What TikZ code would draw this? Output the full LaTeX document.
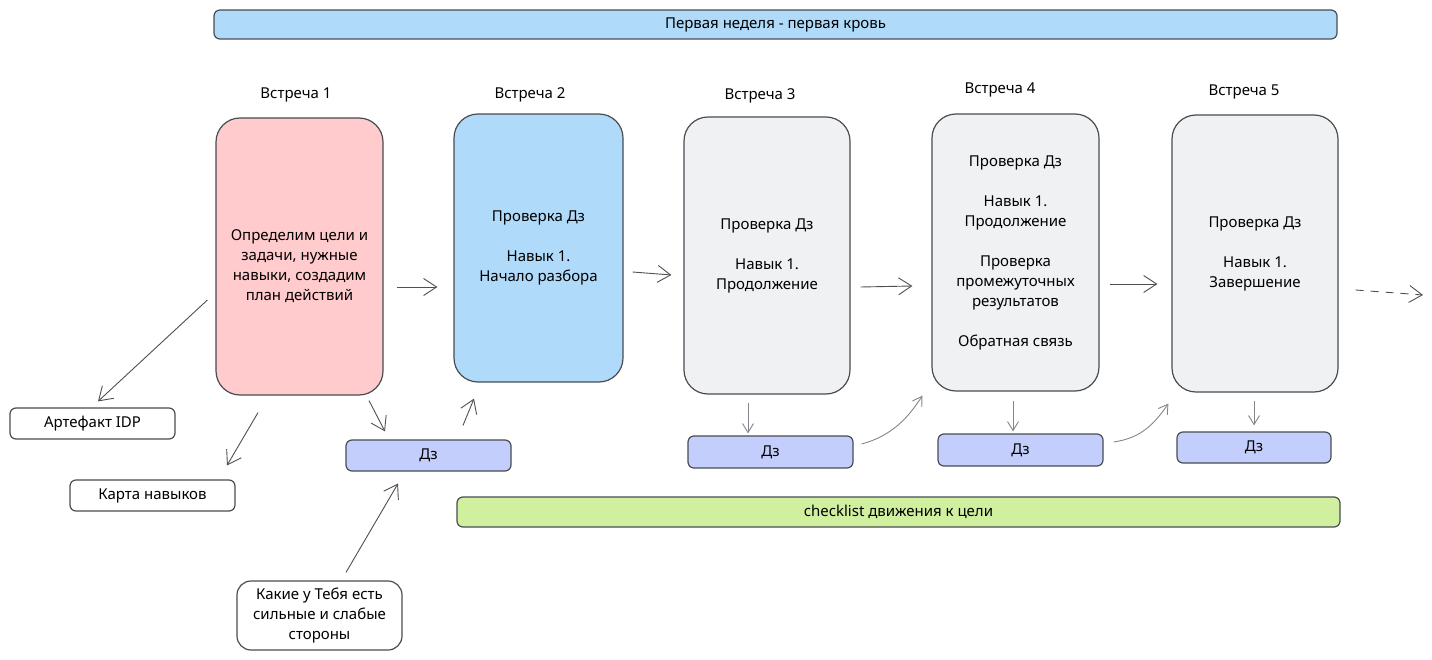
\documentclass[tikz,border=0pt]{standalone}
\usepackage{fontspec}
\setmainfont{Noto Sans}
\usetikzlibrary{arrows.meta,calc}
\definecolor{cpink}{RGB}{255,203,205}
\definecolor{cblue}{RGB}{176,218,250}
\definecolor{cgray}{RGB}{240,241,243}
\definecolor{cindigo}{RGB}{196,206,252}
\definecolor{cgreen}{RGB}{208,240,160}
\definecolor{cline}{RGB}{73,77,82}
\definecolor{carrow}{RGB}{80,80,80}
\definecolor{carrowl}{RGB}{130,134,140}
\tikzset{
  txt/.style={font=\fontsize{15}{20}\selectfont, text=black, align=center},
  bigbox/.style={draw=cline, line width=1.2pt, rounded corners=24pt, minimum width=#1, minimum height=277pt, inner sep=0pt},
  smallbox/.style={draw=cline, line width=1.2pt, rounded corners=6pt, inner sep=0pt, txt},
  title/.style={txt},
  arr/.style={draw=carrow, line width=0.9pt, -{Straight Barb[length=13pt,width=17pt,line width=0.9pt]}},
  arrl/.style={draw=carrowl, line width=0.9pt, -{Straight Barb[length=9pt,width=11pt,line width=0.9pt]}},
}
\begin{document}
\begin{tikzpicture}[x=1pt,y=-1pt]
\useasboundingbox (0,0) rectangle (1432,660);
\fill[white] (0,0) rectangle (1432,660);

% top bar
\node[smallbox, fill=cblue, minimum width=1123pt, minimum height=29pt] (week) at (775.5,24.5) {Первая неделя - первая кровь};

% titles
\node[title] (t1) at (296,95) {Встреча 1};
\node[title] (t2) at (530,95) {Встреча 2};
\node[title] (t3) at (760,96) {Встреча 3};
\node[title] (t4) at (1000,90) {Встреча 4};
\node[title] (t5) at (1244,92) {Встреча 5};

% big boxes
\node[bigbox=167pt, fill=cpink] (b1) at (299.5,256.5) {};
\node[txt] (b1txt) at ($(b1.center)+(0,10)$) {Определим цели и\\задачи, нужные\\навыки, создадим\\план действий};
\node[bigbox=169pt, fill=cblue, minimum height=268pt, txt] (b2) at (538.5,248) {Проверка Дз\\[20pt]Навык 1.\\Начало разбора};
\node[bigbox=166pt, fill=cgray, txt] (b3) at (767,255.5) {Проверка Дз\\[20pt]Навык 1.\\Продолжение};
\node[bigbox=167pt, fill=cgray, txt] (b4) at (1015.5,252.5) {Проверка Дз\\[20pt]Навык 1.\\Продолжение\\[20pt]Проверка\\промежуточных\\результатов\\[20pt]Обратная связь};
\node[bigbox=166pt, fill=cgray, txt] (b5) at (1255,253.5) {Проверка Дз\\[20pt]Навык 1.\\Завершение};

% small boxes
\node[smallbox, fill=white, minimum width=165pt, minimum height=31pt] (art) at (92.5,423.5) {Артефакт IDP};
\node[smallbox, fill=white, minimum width=165pt, minimum height=31pt] (map) at (152.5,495.5) {Карта навыков};
\node[smallbox, fill=cindigo, minimum width=165pt, minimum height=31pt] (dz1) at (428.5,455.5) {Дз};
\node[smallbox, fill=cindigo, minimum width=165pt, minimum height=32pt] (dz3) at (770.5,452) {Дз};
\node[smallbox, fill=cindigo, minimum width=165pt, minimum height=32pt] (dz4) at (1020.5,450) {Дз};
\node[smallbox, fill=cindigo, minimum width=154pt, minimum height=31pt] (dz5) at (1254,447.5) {Дз};
\node[smallbox, fill=white, rounded corners=14pt, minimum width=165pt, minimum height=69pt] (q) at (319.5,615.5) {Какие у Тебя есть\\сильные и слабые\\стороны};
\node[smallbox, fill=cgreen, minimum width=883pt, minimum height=30pt] (check) at (898.5,512) {checklist движения к цели};

\coordinate (dashend) at (1423,295);

% main arrows
\draw[arr] ($(b1.east)+(13,30.5)$) -- ($(b2.west)+(-16,39)$);
\draw[arr] ($(b2.east)+(9,24)$) -- ($(b3.west)+(-12,19.5)$);
\draw[arr] ($(b3.east)+(10,31.5)$) -- ($(b4.west)+(-19,33.5)$);
\draw[arr] ($(b4.east)+(10,31.5)$) -- ($(b5.west)+(-14,30.5)$);
\draw[arr, dashed, dash pattern=on 8pt off 7pt] ($(b5.east)+(17,36.5)$) -- (dashend);

\draw[arr] ($(b1.west)+(-8,43.5)$) -- ($(art.north)+(5.5,-6)$);
\draw[arr] ($(b1.south)+(-41.5,17)$) -- ($(map.north)+(74.5,-14)$);
\draw[arr] ($(b1.south)+(69.5,5)$) -- ($(dz1.north)+(-43.5,-8)$);
\draw[arr] ($(dz1.north)+(34.5,-14)$) -- ($(b2.south)+(-64.5,16)$);
\draw[arr] ($(q.north)+(26.5,-8)$) -- ($(dz1.south)+(-30.5,12)$);

% homework arrows
\draw[arrl] ($(b3.south)+(-19,8)$) -- ($(dz3.north)+(-22.5,-2)$);
\draw[arrl] ($(b4.south)+(-2.5,9)$) -- ($(dz4.north)+(-7.5,-2)$);
\draw[arrl] ($(b5.south)+(-1,8)$) -- ($(dz5.north)+(0,-6)$);
\draw[arrl] ($(dz3.east)+(8,-8)$) .. controls +(30,-8) and +(-14,22) .. ($(b4.south west)+(-9,4)$);
\draw[arrl] ($(dz4.east)+(10,-8)$) .. controls +(28,-4) and +(-14,20) .. ($(b5.south west)+(-3,11)$);
\end{tikzpicture}
\end{document}
